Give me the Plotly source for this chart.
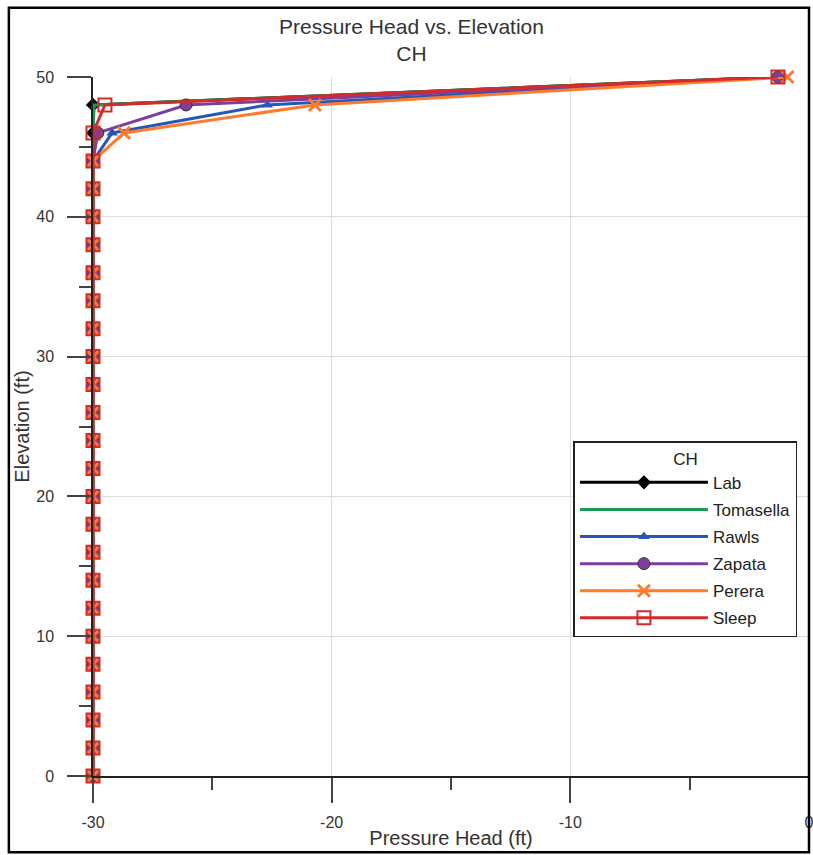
import plotly.graph_objects as go

elevation = [0, 2, 4, 6, 8, 10, 12, 14, 16, 18, 20, 22, 24, 26, 28, 30,
             32, 34, 36, 38, 40, 42, 44, 46, 48, 50]

lab = [-30, -30, -30, -30, -30, -30, -30, -30, -30, -30, -30, -30, -30, -30, -30, -30,
       -30, -30, -30, -30, -30, -30, -30, -30, -30, -1.3]
tomasella = [-30, -30, -30, -30, -30, -30, -30, -30, -30, -30, -30, -30, -30, -30, -30, -30,
             -30, -30, -30, -30, -30, -30, -30, -30, -29.95, -1.3]
rawls = [-30, -30, -30, -30, -30, -30, -30, -30, -30, -30, -30, -30, -30, -30, -30, -30,
         -30, -30, -30, -30, -30, -30, -30, -29.2, -22.7, -1.3]
zapata = [-30, -30, -30, -30, -30, -30, -30, -30, -30, -30, -30, -30, -30, -30, -30, -30,
          -30, -30, -30, -30, -30, -30, -30, -29.8, -26.1, -1.3]
perera = [-30, -30, -30, -30, -30, -30, -30, -30, -30, -30, -30, -30, -30, -30, -30, -30,
          -30, -30, -30, -30, -30, -30, -30, -28.7, -20.7, -0.9]
sleep = [-30, -30, -30, -30, -30, -30, -30, -30, -30, -30, -30, -30, -30, -30, -30, -30,
         -30, -30, -30, -30, -30, -30, -30, -30, -29.5, -1.3]

x_ticks = [-30, -20, -10, 0]
y_ticks = [0, 10, 20, 30, 40, 50]

FONT = "Liberation Sans, Arial, sans-serif"

series = [
    ("Lab", lab, "#000000", "lines+markers", dict(symbol="diamond", size=11, color="#000000")),
    ("Tomasella", tomasella, "#1a9a55", "lines", None),
    ("Rawls", rawls, "#2557b7", "lines+markers", dict(symbol="triangle-up", size=10, color="#2557b7")),
    ("Zapata", zapata, "#7d3f9c", "lines+markers",
     dict(symbol="circle", size=12, color="#7d3f9c", line=dict(color="#333333", width=1))),
    ("Perera", perera, "#ff7a2a", "lines+markers",
     dict(symbol="x-thin", size=12, color="#ff7a2a", line=dict(color="#ff7a2a", width=3))),
    ("Sleep", sleep, "#d42a2a", "lines+markers",
     dict(symbol="square-open", size=13, color="#d42a2a", line=dict(color="#d42a2a", width=2))),
]

fig = go.Figure()
for name, xs, color, mode, marker in series:
    kw = dict(x=xs, y=elevation, name=name, mode=mode, legendgroup=name,
              line=dict(color=color, width=3), cliponaxis=False)
    if marker is not None:
        kw["marker"] = marker
    fig.add_trace(go.Scatter(**kw))

fig.update_layout(
    width=813, height=855,
    paper_bgcolor="white", plot_bgcolor="white",
    font=dict(family=FONT, color="#333333", size=16),
    margin=dict(l=93, r=4, t=77, b=79, autoexpand=False),
    showlegend=True,
    legend=dict(
        title=dict(text="CH", side="top center", font=dict(size=17, color="#222222")),
        x=0.671, y=0.479, xanchor="left", yanchor="top",
        bgcolor="white", bordercolor="#222222", borderwidth=1.5,
        font=dict(size=17, color="#222222"), itemwidth=128,
        tracegroupgap=2,
    ),
    annotations=[
        dict(text="Pressure Head vs. Elevation<br>CH", xref="paper", yref="paper",
             x=0.4455, y=1.053, xanchor="center", yanchor="middle", showarrow=False,
             font=dict(family=FONT, size=21, color="#333333")),
    ],
    shapes=[dict(type="rect", xref="paper", yref="paper",
                 x0=-0.1175, x1=1.0, y0=-0.109, y1=1.099,
                 line=dict(color="black", width=2.5), layer="above")],
)

fig.update_xaxes(
    range=[-30, 0], tickvals=x_ticks, ticktext=[str(v) for v in x_ticks],
    showgrid=True, gridcolor="#dddddd", gridwidth=1,
    showline=True, linecolor="#222222", linewidth=1.5,
    ticks="outside", ticklen=25, tickcolor="#444444", tickwidth=1.5,
    ticklabelstandoff=6, ticklabeloverflow="allow",
    minor=dict(dtick=5, tick0=0, ticks="outside", ticklen=12, tickcolor="#444444",
               tickwidth=1.5, showgrid=False),
    zeroline=False, automargin=False,
    title=dict(text="Pressure Head (ft)", font=dict(size=20, color="#333333"), standoff=1),
    tickfont=dict(size=16, color="#333333"),
)
fig.update_yaxes(
    range=[0, 50], tickvals=y_ticks, ticktext=[str(v) for v in y_ticks],
    showgrid=True, gridcolor="#dddddd", gridwidth=1,
    showline=True, linecolor="#222222", linewidth=1.5,
    ticks="outside", ticklen=24, tickcolor="#444444", tickwidth=1.5,
    ticklabelstandoff=10, ticklabeloverflow="allow",
    minor=dict(dtick=5, tick0=0, ticks="outside", ticklen=12, tickcolor="#444444",
               tickwidth=1.5, showgrid=False),
    zeroline=False, automargin=False,
    title=dict(text="Elevation (ft)", font=dict(size=20, color="#333333"), standoff=1),
    tickfont=dict(size=16, color="#333333"),
)

fig.write_html("out.html", config={"displayModeBar": False},
               post_script="document.body.style.margin='0';document.body.style.overflow='hidden';")
